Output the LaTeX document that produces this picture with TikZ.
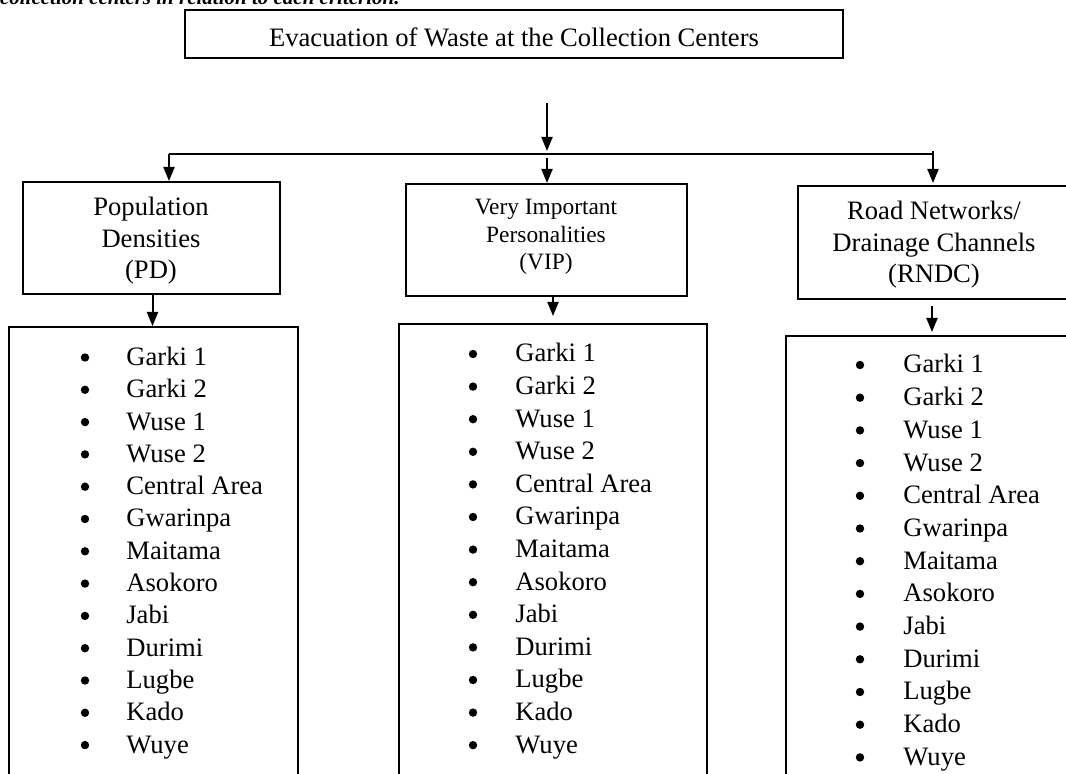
\documentclass[tikz,border=0pt]{standalone}
\usepackage{fontspec}
\setmainfont{Liberation Serif}
\usetikzlibrary{arrows.meta,fit}
\begin{document}
\begin{tikzpicture}[x=0.5pt,y=-0.5pt,
  box/.style={draw, line width=1pt, inner sep=0pt},
  conn/.style={line width=1pt, -{Triangle[length=7pt,width=5.5pt]}},
  plain/.style={line width=1pt},
  lbl/.style={font=\fontsize{13.3}{15.8}\selectfont, align=center, inner sep=0pt},
  viplbl/.style={font=\fontsize{11.7}{13.75}\selectfont, align=center, inner sep=0pt},
  item/.style={font=\fontsize{13.3}{16}\selectfont, anchor=base west, inner sep=0pt},
  dot/.style={circle, fill, inner sep=0pt, minimum size=4.2pt}]
\useasboundingbox (0,0) rectangle (1066,774);
\begin{scope}
\clip (0,0) rectangle (1066,774);

% clipped caption line at the very top
\node[font=\fontsize{10.5}{12.5}\selectfont\bfseries\itshape, anchor=base east, inner sep=0pt] (caption) at (400,4.5) {the collection centers in relation to each criterion.};

% top box
\node[box, fit={(185,10) (843,58)}] (top) {};
\node[lbl, anchor=base] (toptxt) at (514,47) {Evacuation of Waste at the Collection Centers};

% criteria boxes
\node[box, fit={(23,182) (280,294)}] (pd) {};
\node[lbl] (pdtxt) at (151,241) {Population\\Densities\\(PD)};
\node[box, fit={(406,184) (687,296)}] (vip) {};
\node[viplbl] (viptxt) at (546,237) {Very Important\\Personalities\\(VIP)};
\node[box, fit={(798,186) (1090,299)}] (rndc) {};
\node[lbl] (rndctxt) at (934,245) {Road Networks/\\Drainage Channels\\(RNDC)};

% list boxes
\node[box, fit={(9,327) (298,800)}] (pdlist) {};
\node[box, fit={(399,324) (707,800)}] (viplist) {};
\node[box, fit={(786,336) (1090,800)}] (rndclist) {};

% list items
\foreach \t [count=\i from 0] in {Garki 1,Garki 2,Wuse 1,Wuse 2,Central Area,Gwarinpa,Maitama,Asokoro,Jabi,Durimi,Lugbe,Kado,Wuye}{
  \node[item] (pdi\i) at (126,365.5+32.3*\i) {\t};
  \node[dot] (pdb\i) at (85,357.5+32.3*\i) {};
  \node[item] (vipi\i) at (515,362+32.6*\i) {\t};
  \node[dot] (vipb\i) at (473,354+32.6*\i) {};
  \node[item] (rndci\i) at (903,373+32.7*\i) {\t};
  \node[dot] (rndcb\i) at (860,365+32.7*\i) {};
}

% connectors
\coordinate (stemtop) at (547,103);
\coordinate (stemend) at (547,151);
\coordinate (hl) at (169,154);
\coordinate (hr) at (933,154);
\coordinate (mtop) at (547,158);
\coordinate (rtop) at (933,151);
\draw[conn] (stemtop) -- (stemend);
\draw[plain] (hl) -- (hr);
\draw[conn] (hl) -- (hl |- pd.north);
\draw[conn] (mtop) -- (mtop |- vip.north);
\draw[conn, shorten >=1pt] (rtop) -- (rtop |- rndc.north);
\draw[conn] ([xshift=0.5pt]pd.south) -- ([xshift=0.5pt]pd.south |- pdlist.north);
\draw[conn, shorten >=3.5pt] ([xshift=3.25pt]vip.south) -- ([xshift=3.25pt]vip.south |- viplist.north);
\draw[conn, shorten <=3pt, shorten >=1.5pt] ([xshift=-6pt]rndc.south) -- ([xshift=-6pt]rndc.south |- rndclist.north);
\end{scope}
\end{tikzpicture}
\end{document}
